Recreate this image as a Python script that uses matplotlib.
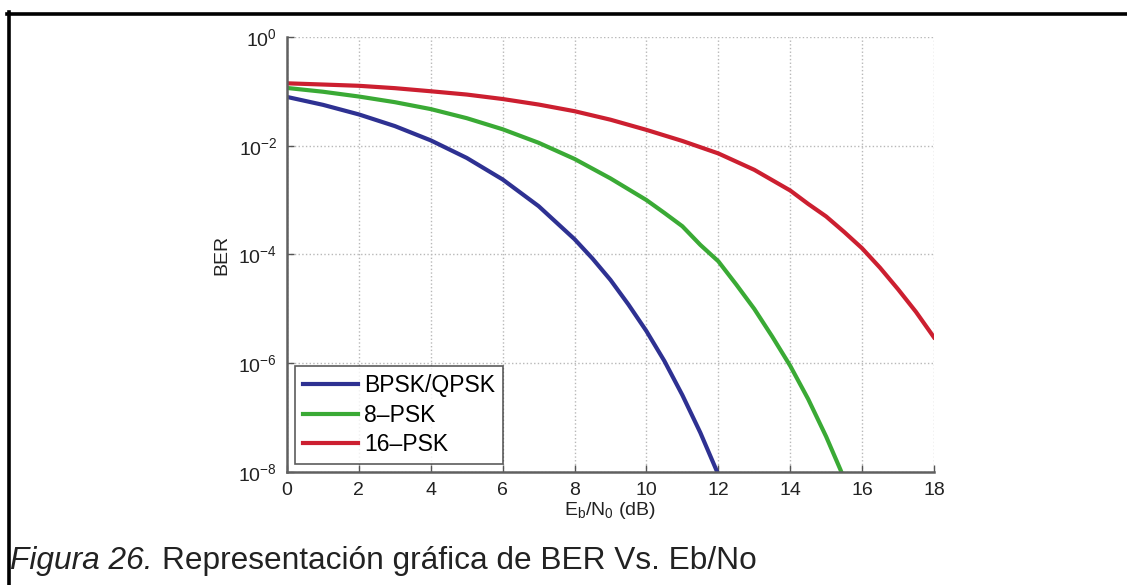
import matplotlib.pyplot as plt
from matplotlib.lines import Line2D
from matplotlib.ticker import LogLocator, LogFormatterSciNotation, NullLocator

plt.rcParams['font.family'] = ['Liberation Sans', 'DejaVu Sans']
plt.rcParams['mathtext.default'] = 'regular'

# Eb/No in dB and BER values
ebno = [0, 1, 2, 3, 4, 5, 6, 7, 8, 8.5, 9, 9.5, 10, 10.5, 11, 11.5, 12]
ber_bpsk = [0.0786, 0.0563, 0.0375, 0.0229, 0.0125, 0.00595, 0.00239,
            0.000773, 0.000191, 8.4e-5, 3.4e-5, 1.2e-5, 3.9e-6, 1.1e-6,
            2.6e-7, 5.3e-8, 9e-9]

ebno_8 = [0, 1, 2, 3, 4, 5, 6, 7, 8, 9, 10, 10.5, 11, 11.5, 12, 12.5, 13,
          13.5, 14, 14.5, 15, 15.4, 16]
ber_8psk = [0.115, 0.098, 0.08, 0.063, 0.047, 0.032, 0.020, 0.0113, 0.0057,
            0.0025, 0.001, 5.8e-4, 3.3e-4, 1.5e-4, 7.5e-5, 2.8e-5, 1.0e-5,
            3.1e-6, 9e-7, 2.2e-7, 4.5e-8, 1.1e-8, 1e-9]

ebno_16 = [0, 1, 2, 3, 4, 5, 6, 7, 8, 9, 10, 11, 12, 13, 14, 14.5, 15, 15.5,
           16, 16.5, 17, 17.5, 18]
ber_16psk = [0.14, 0.133, 0.126, 0.114, 0.1, 0.087, 0.072, 0.057, 0.043,
             0.030, 0.0195, 0.0122, 0.0072, 0.0036, 0.0015, 8.5e-4, 5e-4,
             2.6e-4, 1.3e-4, 5.7e-5, 2.3e-5, 8.8e-6, 3e-6]

labels = ['BPSK/QPSK', '8\u2013PSK', '16\u2013PSK']
colors = ['#2e3192', '#3aaa35', '#cc1f30']

fig = plt.figure(figsize=(11.27, 5.85), dpi=100)
ax = fig.add_axes([0.2547, 0.193, 0.574, 0.744])

ax.semilogy(ebno, ber_bpsk, color=colors[0], lw=3, label=labels[0])
ax.semilogy(ebno_8, ber_8psk, color=colors[1], lw=3, label=labels[1])
ax.semilogy(ebno_16, ber_16psk, color=colors[2], lw=3, label=labels[2])

ax.set_xlim(0, 18)
ax.set_ylim(1e-8, 1)
ax.set_xticks(range(0, 19, 2))
ax.yaxis.set_major_locator(LogLocator(base=100.0))
ax.yaxis.set_major_formatter(LogFormatterSciNotation(base=10))
ax.yaxis.set_minor_locator(NullLocator())

for s in ['top', 'right']:
    ax.spines[s].set_visible(False)
for s in ['left', 'bottom']:
    ax.spines[s].set_color('#606060')
    ax.spines[s].set_linewidth(1.8)

ax.tick_params(direction='in', length=5, width=1, color='#555555',
               labelsize=14, labelcolor='#222222', pad=7)
ax.grid(True, linestyle=':', color='#b8b8b8', linewidth=1)

ax.set_ylabel('BER', fontsize=14, color='#222222', labelpad=6)
ax.set_xlabel('E$_b$/N$_0$ (dB)', fontsize=14, color='#222222', labelpad=1)

leg = ax.legend(loc='lower left', fontsize=16.5, frameon=True, fancybox=False,
                edgecolor='#333333', borderpad=0.35, handlelength=2.4,
                handletextpad=0.25, labelspacing=0.28, borderaxespad=0.35)
leg.get_frame().set_linewidth(1.2)

# outer frame and caption
fig.add_artist(Line2D([7 / 1127, 1], [1 - 13.5 / 585] * 2, color='black',
                      lw=2.6, transform=fig.transFigure))
fig.add_artist(Line2D([8.5 / 1127] * 2, [0, 1 - 12 / 585], color='black',
                      lw=2.6, transform=fig.transFigure))
t1 = fig.text(0.009, 0.027, 'Figura 26.', fontsize=22.8, style='italic',
              color='#222222')
fig.canvas.draw()
x_end = t1.get_window_extent().x1 / fig.bbox.width
fig.text(x_end + 0.008, 0.027, 'Representación gráfica de BER Vs. Eb/No',
         fontsize=22.8, color='#222222')

fig.savefig('out.png', dpi=100)
